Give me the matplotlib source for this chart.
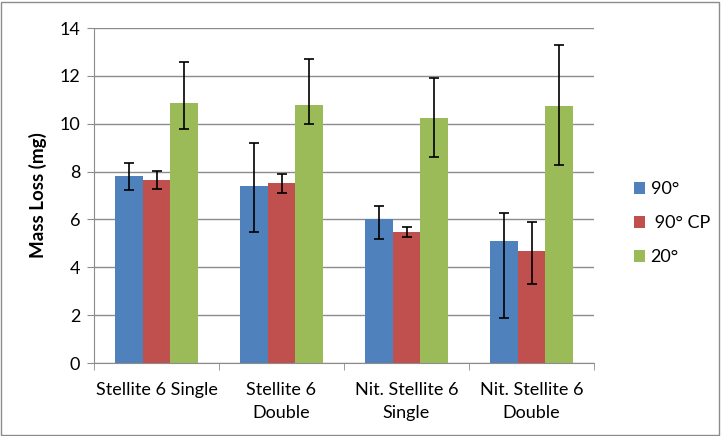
import matplotlib
matplotlib.use("Agg")
import matplotlib.pyplot as plt
import numpy as np
from matplotlib.patches import Rectangle, Patch

categories = ["Stellite 6 Single", "Stellite 6\nDouble", "Nit. Stellite 6\nSingle", "Nit. Stellite 6\nDouble"]
series = ["90°", " 90° CP", "20°"]
vals_90 = [7.8, 7.4, 6.0, 5.1]
vals_90cp = [7.65, 7.52, 5.48, 4.67]
vals_20 = [10.88, 10.77, 10.22, 10.72]
err_lo_90 = [0.57, 1.92, 0.82, 3.22]
err_hi_90 = [0.55, 1.78, 0.58, 1.18]
err_lo_90cp = [0.36, 0.43, 0.2, 1.37]
err_hi_90cp = [0.36, 0.37, 0.2, 1.24]
err_lo_20 = [1.09, 0.78, 1.62, 2.43]
err_hi_20 = [1.71, 1.92, 1.67, 2.58]
colors = ["#4F81BD", "#C0504D", "#9BBB59"]

plt.rcParams['font.family'] = ['Lato', 'DejaVu Sans']

fig = plt.figure(figsize=(7.21, 4.36), dpi=100)
ax = fig.add_axes([94/721, 1-363/436, 500/721, 335/436])

x = np.arange(len(categories))
bw = 1/4.5
data = [(vals_90, err_lo_90, err_hi_90), (vals_90cp, err_lo_90cp, err_hi_90cp), (vals_20, err_lo_20, err_hi_20)]
for i, (v, lo, hi) in enumerate(data):
    pos = x + (i-1)*bw
    ax.bar(pos, v, width=bw, color=colors[i], zorder=2, label=series[i])
    ax.errorbar(pos, v, yerr=[lo, hi], fmt='none', ecolor='black', elinewidth=1.2, capsize=3.8, capthick=1.2, zorder=3)

ax.set_xlim(-0.5, 3.5)
ax.set_ylim(0, 14)
ax.set_yticks(np.arange(0, 15, 2))
ax.yaxis.grid(True, color='#8c8c8c', linewidth=1.0, zorder=0)
ax.set_axisbelow(True)
for s in ['top', 'right']:
    ax.spines[s].set_visible(False)
ax.spines['left'].set_color('#8c8c8c')
ax.spines['bottom'].set_color('#8c8c8c')
ax.tick_params(axis='y', colors='#8c8c8c', labelcolor='black', labelsize=13, length=5, direction='out', pad=5)
ax.set_xticks(x)
ax.set_xticklabels(categories, fontsize=13, linespacing=1.5)
ax.tick_params(axis='x', length=0, pad=14)
ax.set_xticks(np.arange(-0.5, 4.0, 1.0), minor=True)
ax.tick_params(axis='x', which='minor', length=5, color='#8c8c8c')
ax.set_ylabel("Mass Loss (mg)", fontsize=13.5, fontweight='bold', labelpad=9)

handles = [Patch(facecolor=c) for c in colors]
fig.legend(handles, series, loc='upper left', bbox_to_anchor=(618/721, 1-165/436),
           frameon=False, fontsize=13, handlelength=0.6, handleheight=0.6,
           handletextpad=0.3, labelspacing=1.0)

fig.patches.append(Rectangle((0.002, 0.003), 0.995, 0.993, transform=fig.transFigure,
                             fill=False, edgecolor='#8c8c8c', linewidth=1.0))

fig.savefig("out.png", dpi=100)
